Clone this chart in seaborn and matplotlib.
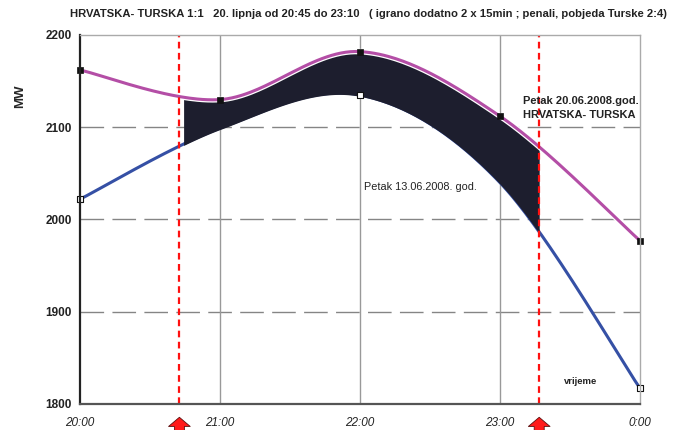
import numpy as np
import pandas as pd
import matplotlib
matplotlib.use("Agg")
import matplotlib.pyplot as plt
import matplotlib.transforms as mtransforms
import matplotlib.patheffects as pe
import seaborn as sns

# ---- data ----
hours = [0, 1, 2, 3, 4]
tick_labels = ["20:00", "21:00", "22:00", "23:00", "0:00"]
mw_2006 = [2162, 2130, 2182, 2112, 1977]   # Petak 20.06.2008 (HRVATSKA - TURSKA)
mw_1306 = [2022, 2099, 2135, 2040, 1817]   # Petak 13.06.2008
match_start = 0.71   # red dashed line (approx 20:43)
match_end = 3.28     # red dashed line (approx 23:17)
fill_start = 0.74
y_ticks = [1800, 1900, 2000, 2100, 2200]

df = pd.DataFrame({"h": hours, "a": mw_2006, "b": mw_1306})

sns.set_theme(style="white")
plt.rcParams["font.family"] = ["Liberation Sans", "DejaVu Sans"]


def smooth(x, y, n=60):
    """Excel-like smoothed line (cubic Bezier through the points)."""
    x = np.asarray(x, float); y = np.asarray(y, float)
    P = np.column_stack([x, y])
    Pe = np.vstack([P[0], P, P[-1]])
    t = np.linspace(0, 1, n)[:, None]
    segs = []
    for i in range(len(P) - 1):
        p0 = Pe[i + 1]; p3 = Pe[i + 2]
        c1 = p0 + (Pe[i + 2] - Pe[i]) / 6
        c2 = p3 - (Pe[i + 3] - Pe[i + 1]) / 6
        b = ((1 - t) ** 3) * p0 + 3 * ((1 - t) ** 2) * t * c1 + 3 * (1 - t) * t ** 2 * c2 + t ** 3 * p3
        segs.append(b if i == 0 else b[1:])
    s = np.vstack(segs)
    return s[:, 0], s[:, 1]


fig = plt.figure(figsize=(6.73, 4.30), dpi=100)
ax = fig.add_axes([80 / 673, 1 - 404 / 430, 560 / 673, 369 / 430])

pink = "#b44ea6"
blue = "#3550a5"
fillc = "#1d1e2e"

xa, ya = smooth(df["h"], df["a"])
xb, yb = smooth(df["h"], df["b"])

# blue line (below fill)
ax.plot(xb, yb, color=blue, lw=2.2, zorder=3, solid_capstyle="round")

# fill between the two curves during the match
xf = np.linspace(fill_start, match_end, 400)
ya_f = np.interp(xf, xa, ya)
yb_f = np.interp(xf, xb, yb)
ax.fill_between(xf, yb_f - 1.5, ya_f, color=fillc, lw=0, zorder=4)

# pink line on top with thin white halo
ax.plot(xa, ya, color=pink, lw=2.2, zorder=5,
        path_effects=[pe.Stroke(linewidth=4.0, foreground="white"), pe.Normal()])

# markers
sns.scatterplot(data=df, x="h", y="a", marker="s", s=14, color="#111111",
                edgecolor="#111111", linewidth=0.5, ax=ax, zorder=6, clip_on=False)
mb = df[df["h"].isin([0, 2, 4])]
sns.scatterplot(data=mb, x="h", y="b", marker="s", s=22, color="white",
                edgecolor="#111111", linewidth=0.8, ax=ax, zorder=6, clip_on=False)

# grid
for yy in [1900, 2000, 2100]:
    ax.axhline(yy, color="#858585", lw=1.0, ls=(0, (17, 6)), zorder=1)
for xx in [1, 2, 3]:
    ax.axvline(xx, color="#999999", lw=1.0, zorder=1)

# red dashed match lines
for xx in [match_start, match_end]:
    ax.axvline(xx, color="#ff1010", lw=1.6, ls=(0, (3, 2)), zorder=7)

ax.set_xlim(0, 4)
ax.set_ylim(1800, 2200)
ax.set_xticks(hours)
ax.set_xticklabels(tick_labels, fontstyle="italic", fontsize=8.5)
ax.set_yticks(y_ticks)
ax.set_yticklabels([str(v) for v in y_ticks], fontweight="bold", fontsize=8.5)
ax.tick_params(axis="both", which="both", direction="out", length=3, width=1.2,
               colors="#222222", pad=3)
ax.tick_params(axis="x", pad=6)
ax.set_xlabel("")
ax.set_ylabel("MW", fontweight="bold", fontsize=9.5)
ax.yaxis.set_label_coords(-0.096, 0.835)

for side in ["top", "right"]:
    ax.spines[side].set_color("#aaaaaa")
    ax.spines[side].set_linewidth(1.0)
ax.spines["left"].set_color("#222222")
ax.spines["left"].set_linewidth(1.6)
ax.spines["bottom"].set_color("#555555")
ax.spines["bottom"].set_linewidth(1.6)
for s in ax.spines.values():
    s.set_visible(True)
    s.set_zorder(8)

# texts
ax.text(3.165, 2121, "Petak 20.06.2008.god.\nHRVATSKA- TURSKA", fontsize=8,
        fontweight="bold", color="#222222", ha="left", va="center", linespacing=1.55, zorder=9)
ax.text(2.03, 2035, "Petak 13.06.2008. god.", fontsize=7.8, color="#222222",
        ha="left", va="center", zorder=9)
ax.text(3.46, 1824, "vrijeme", fontsize=6.8, fontweight="bold", color="#222222",
        ha="left", va="center", zorder=9)

fig.text(368 / 673, 1 - 14 / 430,
         "HRVATSKA- TURSKA 1:1   20. lipnja od 20:45 do 23:10   ( igrano dodatno 2 x 15min ; penali, pobjeda Turske 2:4)",
         fontsize=8.1, fontweight="bold", ha="center", va="center", color="#222222")

# red arrows under the axis
trans = mtransforms.blended_transform_factory(ax.transData, ax.transAxes)
for xx in [match_start, match_end]:
    ax.annotate("", xy=(xx, -0.036), xytext=(xx, -0.16), xycoords=trans, textcoords=trans,
                annotation_clip=False,
                arrowprops=dict(arrowstyle="simple,head_width=1.3,head_length=0.55,tail_width=0.6",
                                fc="#ff1a1a", ec="#5a1010", lw=0.6, shrinkA=0, shrinkB=0))

fig.savefig("out.png", dpi=100)
